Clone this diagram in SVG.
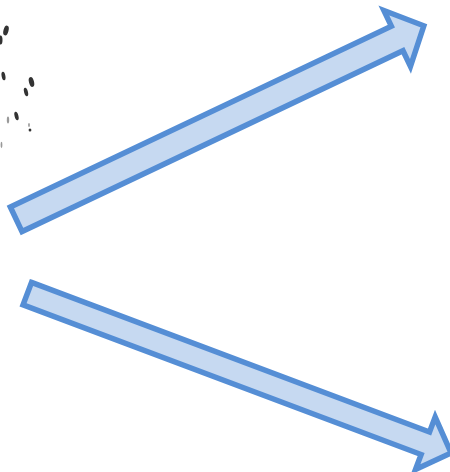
<svg xmlns="http://www.w3.org/2000/svg" width="450" height="472" viewBox="0 0 450 472">
<style>
.arrow{fill:#c6d9f1;stroke:#558ed5;stroke-width:5.5;stroke-linejoin:miter;stroke-miterlimit:10}
.dot{fill:#333}
.faint{fill:#999}
</style>
<rect width="450" height="472" fill="#fff"/>
<g id="dots">
<ellipse class="dot" cx="6" cy="30.5" rx="2.5" ry="5" transform="rotate(15 6 30.5)"/>
<ellipse class="dot" cx="0.5" cy="40" rx="2" ry="4.5"/>
<ellipse class="dot" cx="3.5" cy="76" rx="1.9" ry="4.3" transform="rotate(-10 3.5 76)"/>
<ellipse class="dot" cx="31.5" cy="82" rx="2.5" ry="5" transform="rotate(-15 31.5 82)"/>
<ellipse class="dot" cx="26" cy="92" rx="1.9" ry="4.3" transform="rotate(-15 26 92)"/>
<ellipse class="dot" cx="16.5" cy="116" rx="1.9" ry="4.3" transform="rotate(-15 16.5 116)"/>
<ellipse class="faint" cx="8" cy="120" rx="1.2" ry="3.4"/>
<ellipse class="faint" cx="29" cy="125" rx="0.9" ry="1.9"/>
<ellipse class="dot" cx="30" cy="130" rx="1.4" ry="1.5"/>
<ellipse class="faint" cx="1.5" cy="145" rx="0.9" ry="3.2"/>
</g>
<g id="arrow-up">
<polygon class="arrow" transform="translate(13.7 220.5) rotate(-25.4)" points="2.75,-13.6 424.5,-13.6 424.5,-31 454,0 424.5,31 424.5,13.6 2.75,13.6"/>
</g>
<g id="arrow-down">
<polygon class="arrow" transform="translate(24.7 292.7) rotate(20.6)" points="2.75,-12 428,-12 428,-28 455.5,0 428,28 428,12 2.75,12"/>
</g>
</svg>
